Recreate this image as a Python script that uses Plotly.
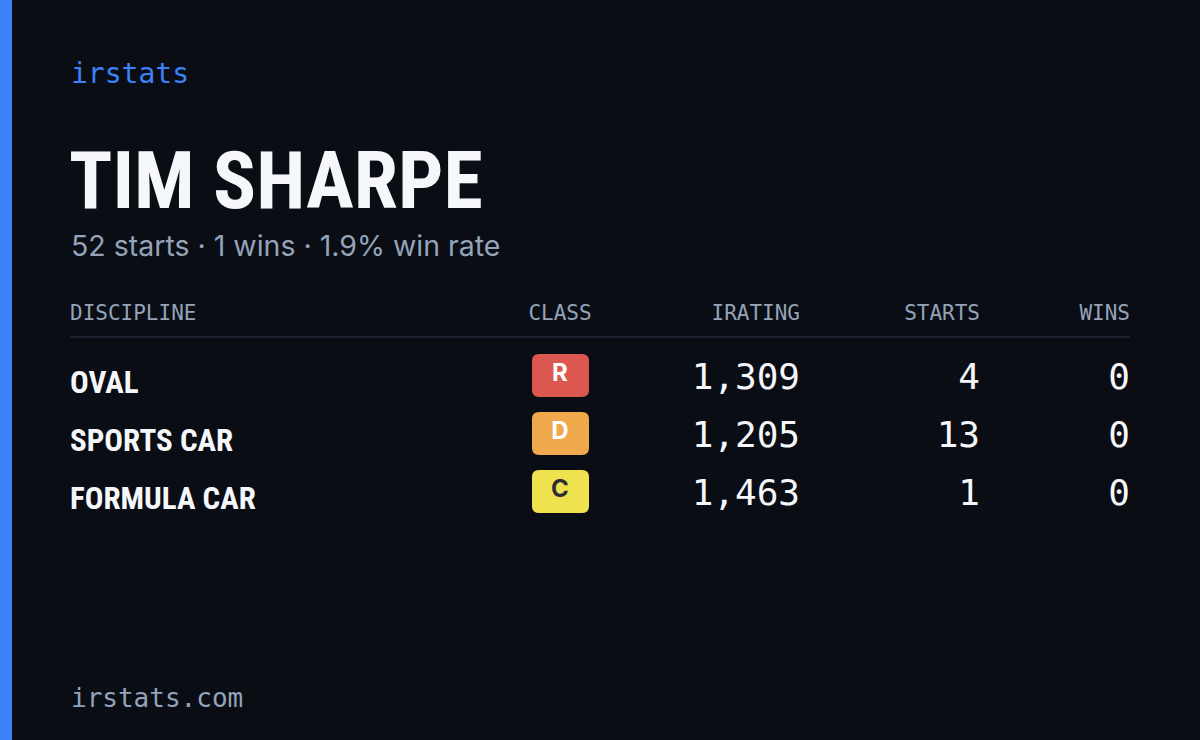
import plotly.graph_objects as go

disciplines = ["OVAL", "SPORTS CAR", "FORMULA CAR"]
classes = ["R", "D", "C"]
class_colors = ["#dc5750", "#f0a94c", "#f0e24e"]
class_text_colors = ["#ffffff", "#ffffff", "#2a2d33"]
iratings = [1309, 1205, 1463]
starts = [4, 13, 1]
wins = [0, 0, 0]
headers = ["DISCIPLINE", "CLASS", "IRATING", "STARTS", "WINS"]
name = "TIM SHARPE"
total_starts, total_wins, win_rate = 52, 1, 1.9

BG = "#0a0d14"
GRAY = "#94a3b8"
WHITE = "#f5f7fa"
MONO = "DejaVu Sans Mono"
COND = "Roboto Condensed, Roboto"

row_y = [378, 436, 494]
fig = go.Figure()

def txt(x, y, t, size, color, family, pos, bold=False):
    t = [f"<b>{s}</b>" if bold else s for s in t]
    fig.add_trace(go.Scatter(x=x, y=y, text=t, mode="text", textposition=pos,
                             textfont=dict(size=size, color=color, family=family),
                             hoverinfo="skip", showlegend=False))

def rrect(x0, x1, y0, y1, r):
    return (f"M{x0+r},{y0} L{x1-r},{y0} Q{x1},{y0} {x1},{y0+r} L{x1},{y1-r} Q{x1},{y1} {x1-r},{y1} "
            f"L{x0+r},{y1} Q{x0},{y1} {x0},{y1-r} L{x0},{y0+r} Q{x0},{y0} {x0+r},{y0} Z")

txt([70], [315], [headers[0]], 21, GRAY, MONO, "middle right")
txt([560], [315], [headers[1]], 21, GRAY, MONO, "middle center")
txt([800, 980, 1130], [315] * 3, headers[2:], 21, GRAY, MONO, "middle left")

txt([70] * 3, [y + 7 for y in row_y], disciplines, 31, WHITE, COND, "middle right", bold=True)
shapes = []
for i, y in enumerate(row_y):
    shapes.append(dict(type="path", xref="x", yref="y", path=rrect(532, 589, y - 24, y + 19, 7),
                       fillcolor=class_colors[i], line=dict(width=0), layer="below"))
for i, y in enumerate(row_y):
    txt([560], [y - 3], [classes[i]], 24, class_text_colors[i], "Inter", "middle center", bold=True)
txt([800] * 3, [y + 2 for y in row_y], [f"{v:,}" for v in iratings], 36, WHITE, MONO, "middle left")
txt([980] * 3, [y + 2 for y in row_y], [str(v) for v in starts], 36, WHITE, MONO, "middle left")
txt([1130] * 3, [y + 2 for y in row_y], [str(v) for v in wins], 36, WHITE, MONO, "middle left")

shapes += [
    dict(type="rect", xref="x", yref="y", x0=0, x1=12, y0=0, y1=740, fillcolor="#3b82f6", line=dict(width=0)),
    dict(type="line", xref="x", yref="y", x0=70, x1=1130, y0=337, y1=337, line=dict(color="#1c2230", width=2)),
]

ann = [
    dict(x=69, y=73, text="irstats", font=dict(size=28, color="#3b82f6", family=MONO)),
    dict(x=67, y=181, text=f"<b>{name}</b>", font=dict(size=80, color=WHITE, family=COND)),
    dict(x=69, y=245, text=f"{total_starts} starts · {total_wins} wins · {win_rate}% win rate",
         font=dict(size=28.5, color=GRAY, family="Inter")),
    dict(x=69, y=698, text="irstats.com", font=dict(size=26, color=GRAY, family=MONO)),
]
for a in ann:
    a.update(xref="x", yref="y", xanchor="left", yanchor="middle", showarrow=False)

fig.update_layout(
    width=1200, height=740, margin=dict(l=0, r=0, t=0, b=0),
    paper_bgcolor=BG, plot_bgcolor=BG, shapes=shapes, annotations=ann,
    xaxis=dict(range=[0, 1200], visible=False, fixedrange=True),
    yaxis=dict(range=[740, 0], visible=False, fixedrange=True),
)
fig.write_html("out.html", config={"displayModeBar": False},
               post_script="document.body.style.margin='0';document.body.style.background='#0a0d14';document.body.style.overflow='hidden';")
